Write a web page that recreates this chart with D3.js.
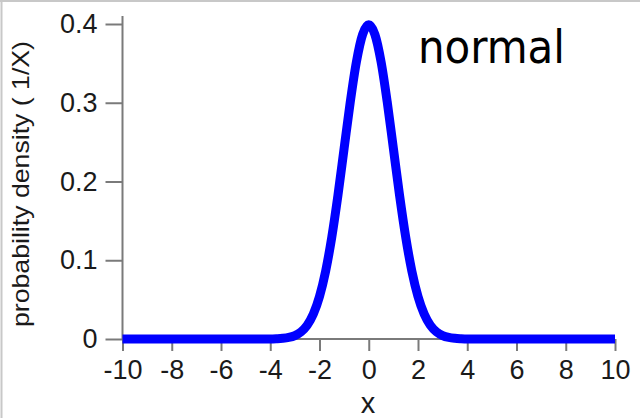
<!DOCTYPE html>
<html>
<head>
<meta charset="utf-8">
<script src="https://cdn.jsdelivr.net/npm/d3@7"></script>
<style>
  html, body { margin: 0; padding: 0; background: #fff; }
  svg { display: block; }
</style>
</head>
<body>
<svg id="chart" width="640" height="418"></svg>
<script>
// ---- data ----
const xValues = [-10, -8, -6, -4.5, -4, -3.75, -3.5, -3.25, -3, -2.75, -2.5, -2.25, -2, -1.75, -1.5, -1.25, -1, -0.75, -0.5, -0.25, 0,
                 0.25, 0.5, 0.75, 1, 1.25, 1.5, 1.75, 2, 2.25, 2.5, 2.75, 3, 3.25, 3.5, 3.75, 4, 4.5, 6, 8, 10];
const densityValues = [0, 0, 0, 0, 0.0001, 0.0004, 0.0009, 0.0020, 0.0044, 0.0091, 0.0175, 0.0317, 0.0540, 0.0863, 0.1295, 0.1826, 0.2420, 0.3011, 0.3521, 0.3867, 0.3989,
                       0.3867, 0.3521, 0.3011, 0.2420, 0.1826, 0.1295, 0.0863, 0.0540, 0.0317, 0.0175, 0.0091, 0.0044, 0.0020, 0.0009, 0.0004, 0.0001, 0, 0, 0, 0];
const xTicks = [-10, -8, -6, -4, -2, 0, 2, 4, 6, 8, 10];
const yTicks = [0, 0.1, 0.2, 0.3, 0.4];
const yTickLabels = ["0", "0.1", "0.2", "0.3", "0.4"];
const xTitle = "x";
const yTitle = "probability density ( 1/X)";
const annotation = "normal";

// ---- drawing ----
const svg = d3.select("#chart");

// frame (top + left border)
svg.append("line").attr("x1", 0).attr("x2", 640).attr("y1", 1).attr("y2", 1)
  .attr("stroke", "#c8c8c8").attr("stroke-width", 2);
svg.append("line").attr("x1", 1.5).attr("x2", 1.5).attr("y1", 0).attr("y2", 418)
  .attr("stroke", "#c8c8c8").attr("stroke-width", 2);

const x = d3.scaleLinear().domain([-10, 10]).range([122.5, 615]);
const y = d3.scaleLinear().domain([0, 0.4]).range([339, 24]);

const axisColor = "#7a7a7a";
const font = "'Liberation Sans', Arial, sans-serif";

// y axis
const yAxis = svg.append("g").attr("transform", `translate(${x(-10)},0)`)
  .call(d3.axisLeft(y).tickValues(yTicks).tickFormat((d, i) => yTickLabels[i]).tickSize(17).tickPadding(8));
yAxis.select(".domain").remove();
yAxis.append("line").attr("x1", 0).attr("x2", 0).attr("y1", 16).attr("y2", y(0))
  .attr("stroke", axisColor).attr("stroke-width", 2);

// x axis
const xAxis = svg.append("g").attr("transform", `translate(0,${y(0)})`)
  .call(d3.axisBottom(x).tickValues(xTicks).tickFormat(d3.format("d")).tickSize(12).tickPadding(9));
xAxis.select(".domain").remove();
xAxis.append("line").attr("x1", x(-10)).attr("x2", x(10)).attr("y1", 0).attr("y2", 0)
  .attr("stroke", axisColor).attr("stroke-width", 2);

[yAxis, xAxis].forEach(g => {
  g.selectAll(".tick line").attr("stroke", axisColor).attr("stroke-width", 2);
  g.selectAll(".tick text").attr("fill", "#1a1a1a")
    .style("font-family", font).style("font-size", "27px");
});
xAxis.selectAll(".tick text").text(d => d < 0 ? "-" + Math.abs(d) : String(d));

// curve
const pts = xValues.map((v, i) => [v, densityValues[i]]);
svg.append("path")
  .attr("d", d3.line().x(d => x(d[0])).y(d => y(d[1])).curve(d3.curveMonotoneX)(pts))
  .attr("fill", "none").attr("stroke", "#0000ff").attr("stroke-width", 9)
  .attr("stroke-linejoin", "round").attr("stroke-linecap", "butt");

// titles
svg.append("text").attr("x", 368).attr("y", 413).attr("text-anchor", "middle")
  .attr("fill", "#1a1a1a").style("font-family", font).style("font-size", "29px").text(xTitle);

svg.append("text")
  .attr("transform", "translate(29,184) rotate(-90)")
  .attr("text-anchor", "middle").attr("fill", "#1a1a1a")
  .style("font-family", font).style("font-size", "24px")
  .attr("textLength", 286).attr("lengthAdjust", "spacingAndGlyphs")
  .text(yTitle);

svg.append("text").attr("x", 418).attr("y", 63)
  .attr("fill", "#000").style("font-family", "'DejaVu Sans Condensed', 'DejaVu Sans', sans-serif")
  .style("font-size", "46px").attr("textLength", 147).attr("lengthAdjust", "spacingAndGlyphs")
  .text(annotation);
</script>
</body>
</html>
